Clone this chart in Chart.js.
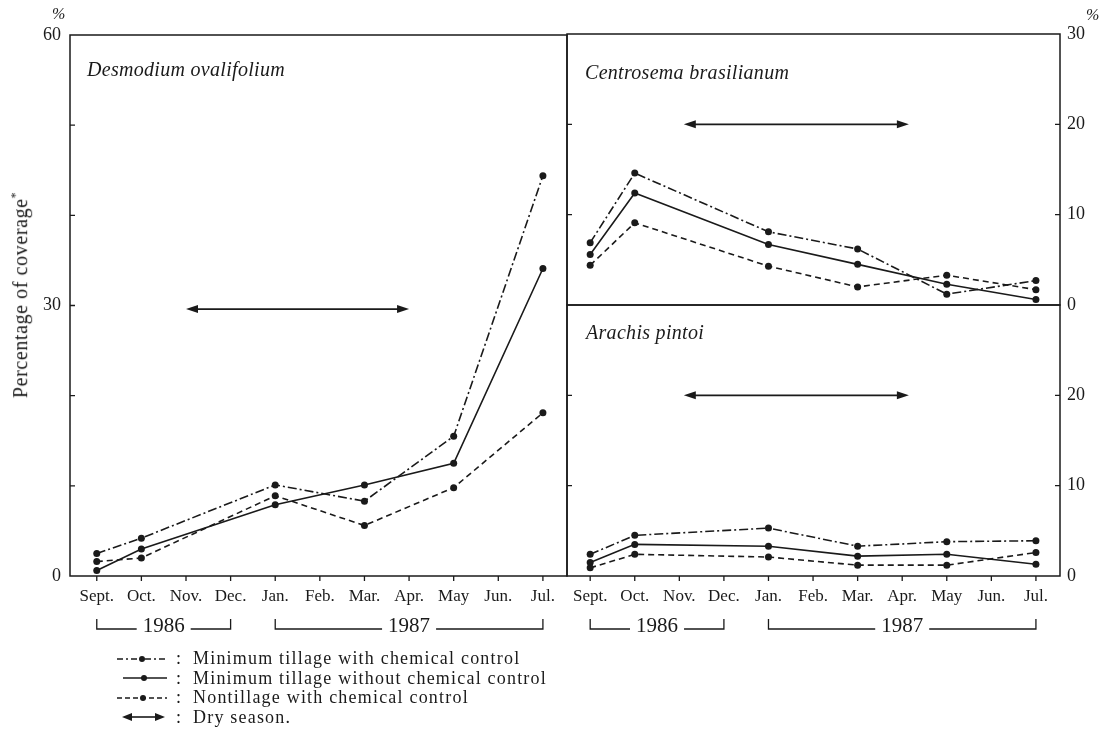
<!DOCTYPE html>
<html>
<head>
<meta charset="utf-8">
<script src="https://cdn.jsdelivr.net/npm/chart.js@4.4.1/dist/chart.umd.min.js"></script>
<style>
  html, body { margin: 0; padding: 0; background: #fff; overflow: hidden; }
  #wrap { position: relative; width: 1110px; height: 735px; font-family: "Liberation Serif", serif; color: #1a1a1a; }
  #wrap canvas { position: absolute; left: 0; top: 0; }
  .txt { position: absolute; white-space: nowrap; }
  .title { font-style: italic; font-size: 20px; line-height: 24px; letter-spacing: 0.3px; }
  .pct { font-style: italic; font-size: 16px; }
  #ytitle { left: 20px; top: 295px; font-size: 20px; letter-spacing: 0.6px; transform: translate(-50%, -50%) rotate(-90deg); }
  #ytitle sup { font-size: 12px; }
  #legend { position: absolute; left: 116px; top: 649px; font-size: 18px; letter-spacing: 1.2px; }
  #legend .row { display: flex; align-items: center; height: 19.5px; }
  #legend .colon { margin-left: 8px; width: 9px; }
  #legend .lab { margin-left: 8px; }
</style>
</head>
<body>
<div id="wrap">
  <canvas id="chartDes" width="1110" height="735"></canvas>
  <canvas id="chartCen" width="1110" height="735"></canvas>
  <canvas id="chartAra" width="1110" height="735"></canvas>

  <div class="txt pct" style="left:52px;top:5px;">%</div>
  <div class="txt pct" style="left:1086px;top:6px;">%</div>
  <div class="txt title" style="left:87px;top:57px;">Desmodium ovalifolium</div>
  <div class="txt title" style="left:585px;top:60px;">Centrosema brasilianum</div>
  <div class="txt title" style="left:586px;top:320px;">Arachis pintoi</div>
  <div class="txt" id="ytitle">Percentage of coverage<sup>*</sup></div>

  <div id="legend">
    <div class="row">
      <svg width="52" height="14"><line x1="1" y1="7" x2="51" y2="7" stroke="#1a1a1a" stroke-width="1.4" stroke-dasharray="6 3 2 3"/><circle cx="26" cy="7" r="3" fill="#1a1a1a"/></svg>
      <span class="colon">:</span><span class="lab">Minimum tillage with chemical control</span>
    </div>
    <div class="row">
      <svg width="52" height="14"><line x1="7" y1="7" x2="51" y2="7" stroke="#1a1a1a" stroke-width="1.6"/><circle cx="28" cy="7" r="3" fill="#1a1a1a"/></svg>
      <span class="colon">:</span><span class="lab">Minimum tillage without chemical control</span>
    </div>
    <div class="row">
      <svg width="52" height="14"><line x1="1" y1="7" x2="51" y2="7" stroke="#1a1a1a" stroke-width="1.4" stroke-dasharray="5 3"/><circle cx="27" cy="7" r="3" fill="#1a1a1a"/></svg>
      <span class="colon">:</span><span class="lab">Nontillage with chemical control</span>
    </div>
    <div class="row">
      <svg width="52" height="14"><line x1="12" y1="7" x2="42" y2="7" stroke="#1a1a1a" stroke-width="1.6"/><polygon points="6,7 16,3 16,11" fill="#1a1a1a"/><polygon points="49,7 39,3 39,11" fill="#1a1a1a"/></svg>
      <span class="colon">:</span><span class="lab">Dry season.</span>
    </div>
  </div>
</div>

<script>
// Meses del eje x
const MONTHS = ['Sept.', 'Oct.', 'Nov.', 'Dec.', 'Jan.', 'Feb.', 'Mar.', 'Apr.', 'May', 'Jun.', 'Jul.'];
// Meses con muestreo (indice en MONTHS)
const SAMPLE_IDX = [0, 1, 4, 6, 8, 10];

// Desmodium ovalifolium (%)
const DES_MIN_CHEM   = [2.5, 4.2, 10.1, 8.3, 15.5, 44.4];
const DES_MIN_NOCHEM = [0.6, 3.0, 7.9, 10.1, 12.5, 34.1];
const DES_NON_CHEM   = [1.6, 2.0, 8.9, 5.6, 9.8, 18.1];

// Centrosema brasilianum (%)
const CEN_MIN_CHEM   = [6.9, 14.6, 8.1, 6.2, 1.2, 2.7];
const CEN_MIN_NOCHEM = [5.6, 12.4, 6.7, 4.5, 2.3, 0.6];
const CEN_NON_CHEM   = [4.4, 9.1, 4.3, 2.0, 3.3, 1.7];

// Arachis pintoi (%)
const ARA_MIN_CHEM   = [2.4, 4.5, 5.3, 3.3, 3.8, 3.9];
const ARA_MIN_NOCHEM = [1.5, 3.5, 3.3, 2.2, 2.4, 1.3];
const ARA_NON_CHEM   = [0.9, 2.4, 2.1, 1.2, 1.2, 2.6];

// Epoca seca: inicio, fin (indice de mes) y nivel
const DRY_DES = [2, 7, 29.6];
const DRY_CEN = [2.1, 7.15, 20];
const DRY_ARA = [2.1, 7.15, 20];

// Anios bajo el eje
const YEAR_LABELS = ['1986', '1987'];
const YEAR_START  = [0, 4];
const YEAR_END    = [3, 10];

const INK = '#1a1a1a';
const SERIF = '"Liberation Serif", "Times New Roman", serif';
const DASH_DOT = [9, 3, 2, 3];
const DASHED = [6, 4];

function makeSet(label, values, dash) {
    return {
        label: label,
        data: SAMPLE_IDX.map((m, i) => ({ x: m, y: values[i] })),
        borderColor: INK,
        backgroundColor: INK,
        borderWidth: 1.6,
        borderDash: dash,
        pointRadius: 3.5,
        pointBorderWidth: 0,
        pointBackgroundColor: INK,
        tension: 0,
        fill: false
    };
}

function threeSets(a, b, c) {
    return [
        makeSet('Minimum tillage with chemical control', a, DASH_DOT),
        makeSet('Minimum tillage without chemical control', b, []),
        makeSet('Nontillage with chemical control', c, DASHED)
    ];
}

// Marco del panel y marcas de division
const paperFrame = {
    id: 'paperFrame',
    afterDraw(chart, args, opts) {
        const { ctx, chartArea: a, scales } = chart;
        ctx.save();
        ctx.strokeStyle = INK;
        ctx.lineWidth = 1.5;
        ctx.strokeRect(a.left, a.top, a.right - a.left, a.bottom - a.top);
        ctx.lineWidth = 1.3;
        ctx.beginPath();
        scales.y.ticks.forEach(t => {
            const py = scales.y.getPixelForValue(t.value);
            if (py <= a.top + 1 || py >= a.bottom - 1) return;
            if (opts.left) { ctx.moveTo(a.left, py); ctx.lineTo(a.left + 5, py); }
            if (opts.right) { ctx.moveTo(a.right - 5, py); ctx.lineTo(a.right, py); }
        });
        if (scales.x.options.display) {
            scales.x.ticks.forEach(t => {
                const px = scales.x.getPixelForValue(t.value);
                ctx.moveTo(px, a.bottom);
                ctx.lineTo(px, a.bottom + 5);
            });
        }
        ctx.stroke();
        ctx.restore();
    }
};

// Flecha doble de la epoca seca
const drySeason = {
    id: 'drySeason',
    afterDatasetsDraw(chart, args, opts) {
        if (!opts.range) return;
        const { ctx, scales: { x, y } } = chart;
        const x0 = x.getPixelForValue(opts.range[0]);
        const x1 = x.getPixelForValue(opts.range[1]);
        const py = y.getPixelForValue(opts.range[2]);
        ctx.save();
        ctx.strokeStyle = INK;
        ctx.fillStyle = INK;
        ctx.lineWidth = 1.6;
        ctx.beginPath();
        ctx.moveTo(x0 + 8, py);
        ctx.lineTo(x1 - 8, py);
        ctx.stroke();
        [[x0, 1], [x1, -1]].forEach(([px, d]) => {
            ctx.beginPath();
            ctx.moveTo(px, py);
            ctx.lineTo(px + d * 12, py - 4);
            ctx.lineTo(px + d * 12, py + 4);
            ctx.closePath();
            ctx.fill();
        });
        ctx.restore();
    }
};

// Corchetes de los anios
const yearBrackets = {
    id: 'yearBrackets',
    afterDraw(chart, args, opts) {
        if (!opts.show) return;
        const { ctx, chartArea: a, scales: { x } } = chart;
        const ly = a.bottom + 53;
        ctx.save();
        ctx.font = '21px ' + SERIF;
        ctx.fillStyle = INK;
        ctx.strokeStyle = INK;
        ctx.lineWidth = 1.3;
        ctx.textAlign = 'center';
        ctx.textBaseline = 'middle';
        YEAR_LABELS.forEach((label, i) => {
            const x0 = x.getPixelForValue(YEAR_START[i]);
            const x1 = x.getPixelForValue(YEAR_END[i]);
            const mid = (x0 + x1) / 2;
            const half = ctx.measureText(label).width / 2 + 6;
            ctx.beginPath();
            ctx.moveTo(x0, ly - 10); ctx.lineTo(x0, ly); ctx.lineTo(mid - half, ly);
            ctx.moveTo(mid + half, ly); ctx.lineTo(x1, ly); ctx.lineTo(x1, ly - 10);
            ctx.stroke();
            ctx.fillText(label, mid, ly - 3);
        });
        ctx.restore();
    }
};

function panelConfig(p) {
    return {
        type: 'line',
        data: { datasets: threeSets(p.a, p.b, p.c) },
        plugins: [paperFrame, drySeason, yearBrackets],
        options: {
            responsive: false,
            animation: false,
            devicePixelRatio: 1,
            layout: { padding: p.padding },
            plugins: {
                legend: { display: false },
                tooltip: { enabled: false },
                paperFrame: { left: true, right: p.rightTicks },
                drySeason: { range: p.dry },
                yearBrackets: { show: p.showX }
            },
            scales: {
                x: {
                    type: 'linear',
                    display: p.showX,
                    min: p.xMin,
                    max: 10.54,
                    grid: { display: false, drawTicks: false },
                    border: { display: false },
                    afterFit: s => { if (s.options.display) s.height = 159; },
                    ticks: {
                        stepSize: 1,
                        includeBounds: false,
                        autoSkip: false,
                        maxRotation: 0,
                        minRotation: 0,
                        padding: 10,
                        color: INK,
                        font: { family: SERIF, size: 17 },
                        callback: v => MONTHS[v] ?? ''
                    }
                },
                y: {
                    position: p.yPos,
                    min: 0,
                    max: p.yMax,
                    grid: { display: false, drawTicks: false },
                    border: { display: false },
                    afterFit: s => { s.width = p.yWidth; },
                    ticks: {
                        stepSize: 10,
                        padding: p.yPad,
                        color: INK,
                        font: { family: SERIF, size: 18 },
                        callback: p.yLabel
                    }
                }
            }
        }
    };
}

window.addEventListener('load', () => {
    new Chart(document.getElementById('chartDes'), panelConfig({
        a: DES_MIN_CHEM, b: DES_MIN_NOCHEM, c: DES_NON_CHEM,
        padding: { left: 0, top: 35, right: 543, bottom: 0 },
        rightTicks: false, dry: DRY_DES, showX: true, xMin: -0.6,
        yPos: 'left', yMax: 60, yWidth: 70, yPad: 9,
        yLabel: v => (v % 30 === 0 ? v : '')
    }));
    new Chart(document.getElementById('chartCen'), panelConfig({
        a: CEN_MIN_CHEM, b: CEN_MIN_NOCHEM, c: CEN_NON_CHEM,
        padding: { left: 567, top: 34, right: 0, bottom: 430 },
        rightTicks: true, dry: DRY_CEN, showX: false, xMin: -0.52,
        yPos: 'right', yMax: 30, yWidth: 50, yPad: 7,
        yLabel: v => v
    }));
    new Chart(document.getElementById('chartAra'), panelConfig({
        a: ARA_MIN_CHEM, b: ARA_MIN_NOCHEM, c: ARA_NON_CHEM,
        padding: { left: 567, top: 305, right: 0, bottom: 0 },
        rightTicks: true, dry: DRY_ARA, showX: true, xMin: -0.52,
        yPos: 'right', yMax: 30, yWidth: 50, yPad: 7,
        yLabel: v => (v === 30 ? '' : v)
    }));
});
</script>
</body>
</html>
